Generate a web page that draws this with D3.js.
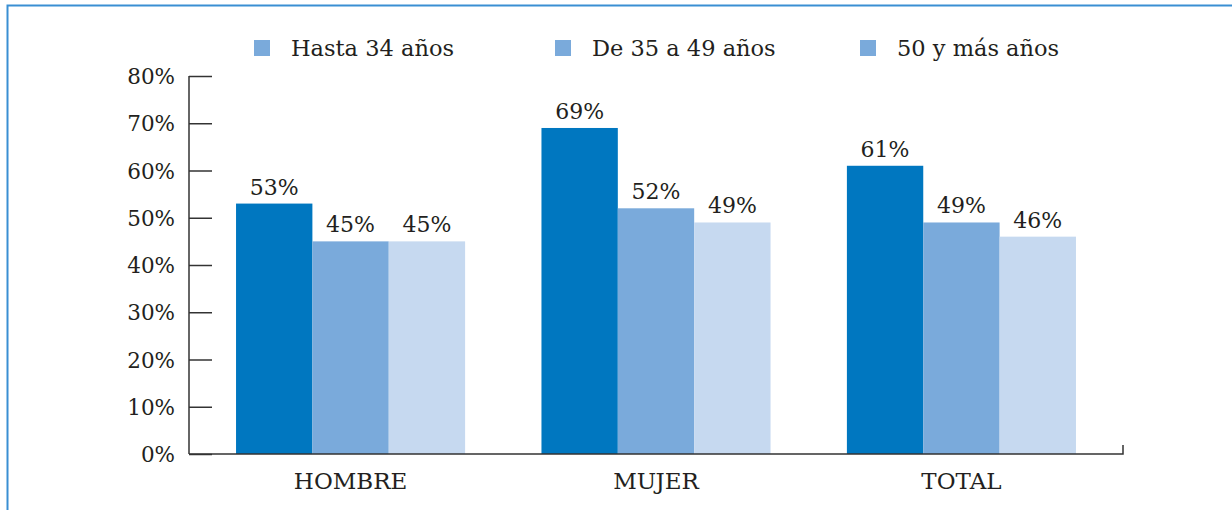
<!DOCTYPE html>
<html>
<head>
<meta charset="utf-8">
<script src="https://cdn.jsdelivr.net/npm/d3@7"></script>
<style>
  body { margin: 0; background: #fff; }
  svg text { font-family: "DejaVu Serif", "Liberation Serif", serif; fill: #231f20; }
</style>
</head>
<body>
<svg id="chart" width="1232" height="510"></svg>
<script>
// categories and series
let categories = ["HOMBRE", "MUJER", "TOTAL"];
let seriesNames = ["Hasta 34 años", "De 35 a 49 años", "50 y más años"];
let hasta34 = [53, 69, 61];
let de35a49 = [45, 52, 49];
let mas50 = [45, 49, 46];
let yTicks = [0, 10, 20, 30, 40, 50, 60, 70, 80];

let seriesValues = [hasta34, de35a49, mas50];
let barColors = ["#0077c0", "#7aaadb", "#c6d9f0"];
let legendColor = "#7aaadb";

let svg = d3.select("#chart");

// frame (only left and top edges visible in the crop)
svg.append("path")
  .attr("d", "M7.5,510 V5.5 H1232")
  .attr("fill", "none")
  .attr("stroke", "#3a8fd3")
  .attr("stroke-width", 2);

let plotLeft = 189, plotRight = 1123, plotBottom = 454, plotTop = 76;

let x0 = d3.scaleBand()
  .domain(categories)
  .range([plotLeft, plotRight])
  .paddingInner(0.25)
  .paddingOuter(0.154);

let x1 = d3.scaleBand()
  .domain(d3.range(seriesNames.length))
  .range([0, x0.bandwidth()]);

let y = d3.scaleLinear()
  .domain([0, 80])
  .range([plotBottom, plotTop]);

// bars
let groups = svg.selectAll(".group")
  .data(categories)
  .enter()
  .append("g")
    .attr("class", "group")
    .attr("transform", function(d) { return "translate(" + x0(d) + ",0)"; });

function rowOf(d, i) {
  return seriesValues.map(function(s, j) { return {s: j, v: s[i]}; });
}

groups.selectAll("rect")
  .data(rowOf)
  .enter()
  .append("rect")
    .attr("x", function(d) { return x1(d.s); })
    .attr("y", function(d) { return y(d.v); })
    .attr("width", x1.bandwidth())
    .attr("height", function(d) { return plotBottom - y(d.v); })
    .attr("fill", function(d) { return barColors[d.s]; });

groups.selectAll(".val")
  .data(rowOf)
  .enter()
  .append("text")
    .attr("class", "val")
    .attr("x", function(d) { return x1(d.s) + x1.bandwidth() / 2; })
    .attr("y", function(d) { return y(d.v) - 9; })
    .attr("text-anchor", "middle")
    .style("font-size", "22px")
    .text(function(d) { return d.v + "%"; });

// y axis
let yAxis = svg.append("g")
  .attr("transform", "translate(" + plotLeft + ",0)")
  .call(d3.axisRight(y).tickValues(yTicks).tickSize(23).tickFormat(function(d) { return d + "%"; }));
yAxis.select(".domain").attr("stroke", "#333").attr("stroke-width", 1.5)
  .attr("d", "M0," + plotTop + "V" + plotBottom);
yAxis.selectAll(".tick line").attr("stroke", "#333").attr("stroke-width", 1.5);
yAxis.selectAll(".tick text")
  .attr("x", -14)
  .attr("dy", "0.35em")
  .attr("text-anchor", "end")
  .style("font-size", "21.5px")
  .style("font-family", "DejaVu Serif, serif")
  .attr("fill", "#231f20");

// x axis
let xAxis = svg.append("g")
  .attr("transform", "translate(0," + plotBottom + ")")
  .call(d3.axisBottom(x0).tickSize(0).tickPadding(19));
xAxis.select(".domain").attr("stroke", "#333").attr("stroke-width", 1.5)
  .attr("d", "M" + plotLeft + ",0H" + plotRight + "V-9");
xAxis.selectAll(".tick text")
  .style("font-size", "23px")
  .style("font-family", "DejaVu Serif, serif")
  .attr("fill", "#231f20");

// legend
let legendX = [254, 555, 860];
let legend = svg.selectAll(".legend")
  .data(seriesNames)
  .enter()
  .append("g")
    .attr("class", "legend")
    .attr("transform", function(d, i) { return "translate(" + legendX[i] + ",40)"; });
legend.append("rect")
  .attr("width", 16)
  .attr("height", 16)
  .attr("fill", legendColor);
legend.append("text")
  .attr("x", 37)
  .attr("y", 16)
  .style("font-size", "22.5px")
  .text(function(d) { return d; });
</script>
</body>
</html>
